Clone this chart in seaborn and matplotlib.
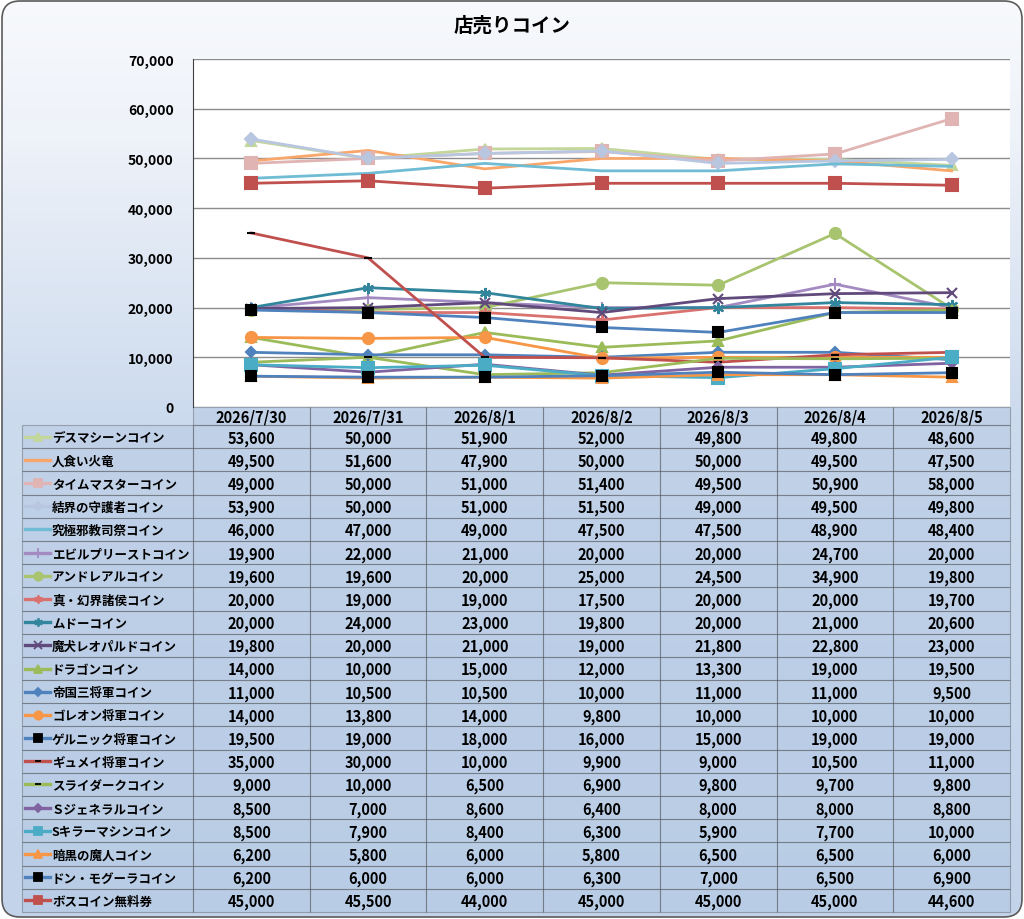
import numpy as np
import pandas as pd
import matplotlib
matplotlib.use("Agg")
import matplotlib.pyplot as plt
import seaborn as sns
from matplotlib.patches import FancyBboxPatch, Rectangle
from matplotlib.colors import LinearSegmentedColormap

# データ
dates = ["2026/7/30", "2026/7/31", "2026/8/1", "2026/8/2", "2026/8/3", "2026/8/4", "2026/8/5"]
coins = ["デスマシーンコイン", "人食い火竜", "タイムマスターコイン", "結界の守護者コイン",
         "究極邪教司祭コイン", "エビルプリーストコイン", "アンドレアルコイン", "真・幻界諸侯コイン",
         "ムドーコイン", "魔犬レオパルドコイン", "ドラゴンコイン", "帝国三将軍コイン",
         "ゴレオン将軍コイン", "ゲルニック将軍コイン", "ギュメイ将軍コイン", "スライダークコイン",
         "Ｓジェネラルコイン", "Sキラーマシンコイン", "暗黒の魔人コイン", "ドン・モグーラコイン",
         "ボスコイン無料券"]

deathmachine = [53600, 50000, 51900, 52000, 49800, 49800, 48600]
hitokui = [49500, 51600, 47900, 50000, 50000, 49500, 47500]
timemaster = [49000, 50000, 51000, 51400, 49500, 50900, 58000]
kekkai = [53900, 50000, 51000, 51500, 49000, 49500, 49800]
kyukyoku = [46000, 47000, 49000, 47500, 47500, 48900, 48400]
evilpriest = [19900, 22000, 21000, 20000, 20000, 24700, 20000]
andreal = [19600, 19600, 20000, 25000, 24500, 34900, 19800]
genkai = [20000, 19000, 19000, 17500, 20000, 20000, 19700]
mudo = [20000, 24000, 23000, 19800, 20000, 21000, 20600]
leopard = [19800, 20000, 21000, 19000, 21800, 22800, 23000]
dragon = [14000, 10000, 15000, 12000, 13300, 19000, 19500]
sanshogun = [11000, 10500, 10500, 10000, 11000, 11000, 9500]
goreon = [14000, 13800, 14000, 9800, 10000, 10000, 10000]
gernick = [19500, 19000, 18000, 16000, 15000, 19000, 19000]
gyumei = [35000, 30000, 10000, 9900, 9000, 10500, 11000]
slidark = [9000, 10000, 6500, 6900, 9800, 9700, 9800]
sgeneral = [8500, 7000, 8600, 6400, 8000, 8000, 8800]
skiller = [8500, 7900, 8400, 6300, 5900, 7700, 10000]
ankoku = [6200, 5800, 6000, 5800, 6500, 6500, 6000]
donmogura = [6200, 6000, 6000, 6300, 7000, 6500, 6900]
bosscoin = [45000, 45500, 44000, 45000, 45000, 45000, 44600]

values = [deathmachine, hitokui, timemaster, kekkai, kyukyoku, evilpriest, andreal, genkai,
          mudo, leopard, dragon, sanshogun, goreon, gernick, gyumei, slidark, sgeneral,
          skiller, ankoku, donmogura, bosscoin]

# スタイル (線の色, マーカー, マーカーの色, マーカーサイズ)
styles = [
    ("#c4d79b", "^", None, 7),
    ("#f9a66b", None, None, 0),
    ("#e0b4b3", "s", None, 8),
    ("#b8c6e0", "D", None, 6),
    ("#6fbcd4", None, None, 0),
    ("#a38bc2", "+", None, 9),
    ("#a9c46f", "o", None, 8),
    ("#d9726f", (6, 2, 0), None, 8),
    ("#31859c", (6, 2, 0), None, 8),
    ("#604a7b", "x", None, 7),
    ("#9bbb59", "^", None, 7),
    ("#4f81bd", "D", None, 5),
    ("#f79646", "o", None, 8),
    ("#4f81bd", "s", "black", 7),
    ("#c0504d", "_", "black", 6),
    ("#9bbb59", "_", "black", 6),
    ("#8064a2", "D", None, 5),
    ("#4bacc6", "s", None, 8),
    ("#f79646", "^", None, 7),
    ("#4f81bd", "s", "black", 7),
    ("#c0504d", "s", None, 8),
]

plt.rcParams["font.family"] = ["Noto Sans CJK JP", "DejaVu Sans"]
plt.rcParams["font.weight"] = "bold"

W, H = 1024, 920
fig = plt.figure(figsize=(W / 100, H / 100), dpi=100)
fig.patch.set_facecolor("white")

# 背景 (グラデーション + 角丸枠)
bg = fig.add_axes([0, 0, 1, 1], zorder=-10)
bg.set_xlim(0, W)
bg.set_ylim(H, 0)
bg.axis("off")
frame = FancyBboxPatch((2, 2), W - 4, H - 4, boxstyle="round,pad=0,rounding_size=18",
                       fc="none", ec="#5a5a5a", lw=1.2, zorder=5)
bg.add_patch(frame)
cmap = LinearSegmentedColormap.from_list(
    "bg", [(0, "#f7f9fc"), (0.15, "#eef2f9"), (0.45, "#cddbee"), (1, "#c2d3ea")])
im = bg.imshow(np.linspace(0, 1, 256).reshape(-1, 1), cmap=cmap,
               extent=[0, W, H, 0], aspect="auto", zorder=0)
im.set_clip_path(frame)

fig.text(0.5, 1 - 26 / H, "店売りコイン", ha="center", va="center", fontsize=14, fontweight="bold")

# 折れ線グラフ
PL, PR, PT, PB = 193, 1010, 60, 408
ax = fig.add_axes([PL / W, 1 - PB / H, (PR - PL) / W, (PB - PT) / H])
ax.set_facecolor("white")

df = pd.DataFrame([(c, i, v) for c, vals in zip(coins, values) for i, v in enumerate(vals)],
                  columns=["coin", "pos", "value"])

for coin, (col, mk, mfc, ms) in zip(coins, styles):
    sub = df[df["coin"] == coin]
    kw = dict(color=col, lw=2.0)
    if mk is not None:
        face = mfc if mfc else col
        kw.update(marker=mk, markersize=ms, markerfacecolor=face,
                  markeredgecolor=face, markeredgewidth=1.5)
    sns.lineplot(data=sub, x="pos", y="value", ax=ax, **kw)

ax.set_xlim(-0.5, 6.5)
ax.set_ylim(0, 70000)
ax.set_yticks(np.arange(0, 70001, 10000))
ax.set_yticklabels([f"{v:,}" for v in range(0, 70001, 10000)], fontsize=10, fontweight="bold")
ax.set_xticks([])
ax.set_xlabel("")
ax.set_ylabel("")
ax.tick_params(axis="y", length=0, pad=14)
ax.grid(axis="y", color="#8c8c8c", lw=1)
ax.set_axisbelow(True)
for s in ["top", "right", "bottom"]:
    ax.spines[s].set_visible(False)
ax.spines["left"].set_color("#404040")

# データテーブル
TL = 22
HDR_B = 426
TB = 913
row_h = (TB - HDR_B) / len(coins)
col_w = (PR - PL) / len(dates)
line_c = "#3c3c3c"

# ヘッダー
for j, d in enumerate(dates):
    x0 = PL + j * col_w
    bg.add_patch(Rectangle((x0, PB), col_w, HDR_B - PB, fc="#a9c0de", alpha=0.35,
                           ec=line_c, lw=0.8, zorder=2))
    bg.text(x0 + col_w / 2, (PB + HDR_B) / 2 + 1, d, ha="center", va="center",
            fontsize=10.5, fontweight="bold", zorder=3)

for i, (coin, vals, (col, mk, mfc, ms)) in enumerate(zip(coins, values, styles)):
    y0 = HDR_B + i * row_h
    yc = y0 + row_h / 2
    bg.add_patch(Rectangle((TL, y0), PL - TL, row_h, fc="#a9c0de", alpha=0.35,
                           ec=line_c, lw=0.8, zorder=2))
    kw = dict(color=col, lw=2.4, zorder=3)
    if mk is not None:
        face = mfc if mfc else col
        kw.update(marker=mk, markersize=ms * 0.75, markerfacecolor=face,
                  markeredgecolor=face, markeredgewidth=1.3, markevery=[1])
    bg.plot([TL + 3, TL + 15.5, TL + 28], [yc, yc, yc], **kw)
    bg.text(TL + 30, yc + 1, coin, ha="left", va="center", fontsize=9,
            fontweight="bold", zorder=3)
    for j, v in enumerate(vals):
        x0 = PL + j * col_w
        bg.add_patch(Rectangle((x0, y0), col_w, row_h, fc="#a9c0de", alpha=0.35,
                               ec=line_c, lw=0.8, zorder=2))
        bg.text(x0 + col_w / 2, yc + 1, f"{v:,}", ha="center", va="center",
                fontsize=10.5, fontweight="bold", zorder=3)

fig.savefig("out.png", dpi=100)
